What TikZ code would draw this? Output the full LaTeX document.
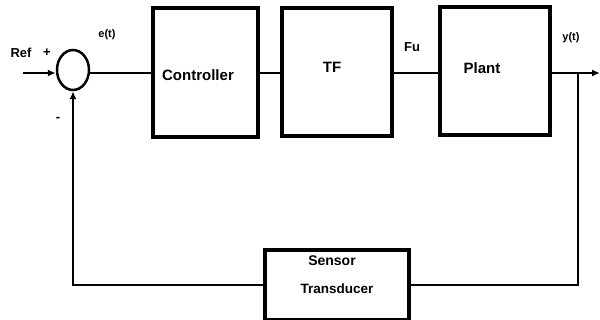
\documentclass[tikz,border=0pt]{standalone}
\usepackage{fontspec}
\setmainfont{Liberation Sans}
\usetikzlibrary{shapes.geometric,arrows.meta}
\begin{document}
\begin{tikzpicture}[x=1pt,y=-1pt,
  blk/.style={draw,line width=3.5pt,rectangle,inner sep=0pt},
  btxt/.style={font=\fontsize{15}{17}\selectfont\bfseries,inner sep=0pt},
  sumnode/.style={draw,line width=2.5pt,ellipse,minimum width=32pt,minimum height=40pt,inner sep=0pt},
  wire/.style={line width=2.5pt},
  tip/.style={-{Latex[length=8pt,width=7pt]}},
  lbl/.style={font=\fontsize{13}{15}\selectfont\bfseries,inner sep=0pt},
  slbl/.style={font=\fontsize{11}{13}\selectfont\bfseries,inner sep=0pt}]
\useasboundingbox (0,0) rectangle (600,320);
\fill[white] (0,0) rectangle (600,320);
\node[sumnode] (sum) at (73,70) {};
\node[blk,minimum width=105pt,minimum height=129pt] (ctrl) at (205.5,72.5) {};
\node[blk,minimum width=110pt,minimum height=128pt] (mid) at (337,72) {};
\node[blk,minimum width=110pt,minimum height=128pt] (plant) at (495,71) {};
\node[blk,minimum width=144pt,minimum height=70pt] (sens) at (337,285) {};
\node[btxt] (ctrltxt) at (198,75) {Controller};
\node[btxt] (midtxt) at (332,67) {TF};
\node[btxt] (planttxt) at (482,68) {Plant};
\node[btxt,font=\fontsize{14}{16}\selectfont\bfseries] (senstxt) at (332,261) {Sensor};
\node[btxt,font=\fontsize{13.5}{16}\selectfont\bfseries] (transtxt) at (337,289) {Transducer};
\coordinate (in) at (23,73);
\coordinate (out) at (600,73);
\coordinate (br) at (578,73);
\node[lbl] (ref) at (21,53) {Ref};
\node[lbl] (plus) at (47,53) {+};
\node[lbl] (minus) at (58,119) {-};
\node[slbl] (et) at (107,35) {e(t)};
\node[lbl] (fu) at (412,47) {Fu};
\node[slbl] (yt) at (571,38) {y(t)};
\draw[wire,tip] (in) -- (in -| sum.west);
\draw[wire] (sum.east |- 0,73) -- (ctrl.west |- 0,73);
\draw[wire] (ctrl.east |- 0,73) -- (mid.west |- 0,73);
\draw[wire] (mid.east |- 0,73) -- (plant.west |- 0,73);
\draw[wire,tip] (plant.east |- 0,73) -- (out);
\draw[wire] (br) |- (sens.east);
\draw[wire,tip] (sens.west) -| (sum.south);
\end{tikzpicture}
\end{document}
